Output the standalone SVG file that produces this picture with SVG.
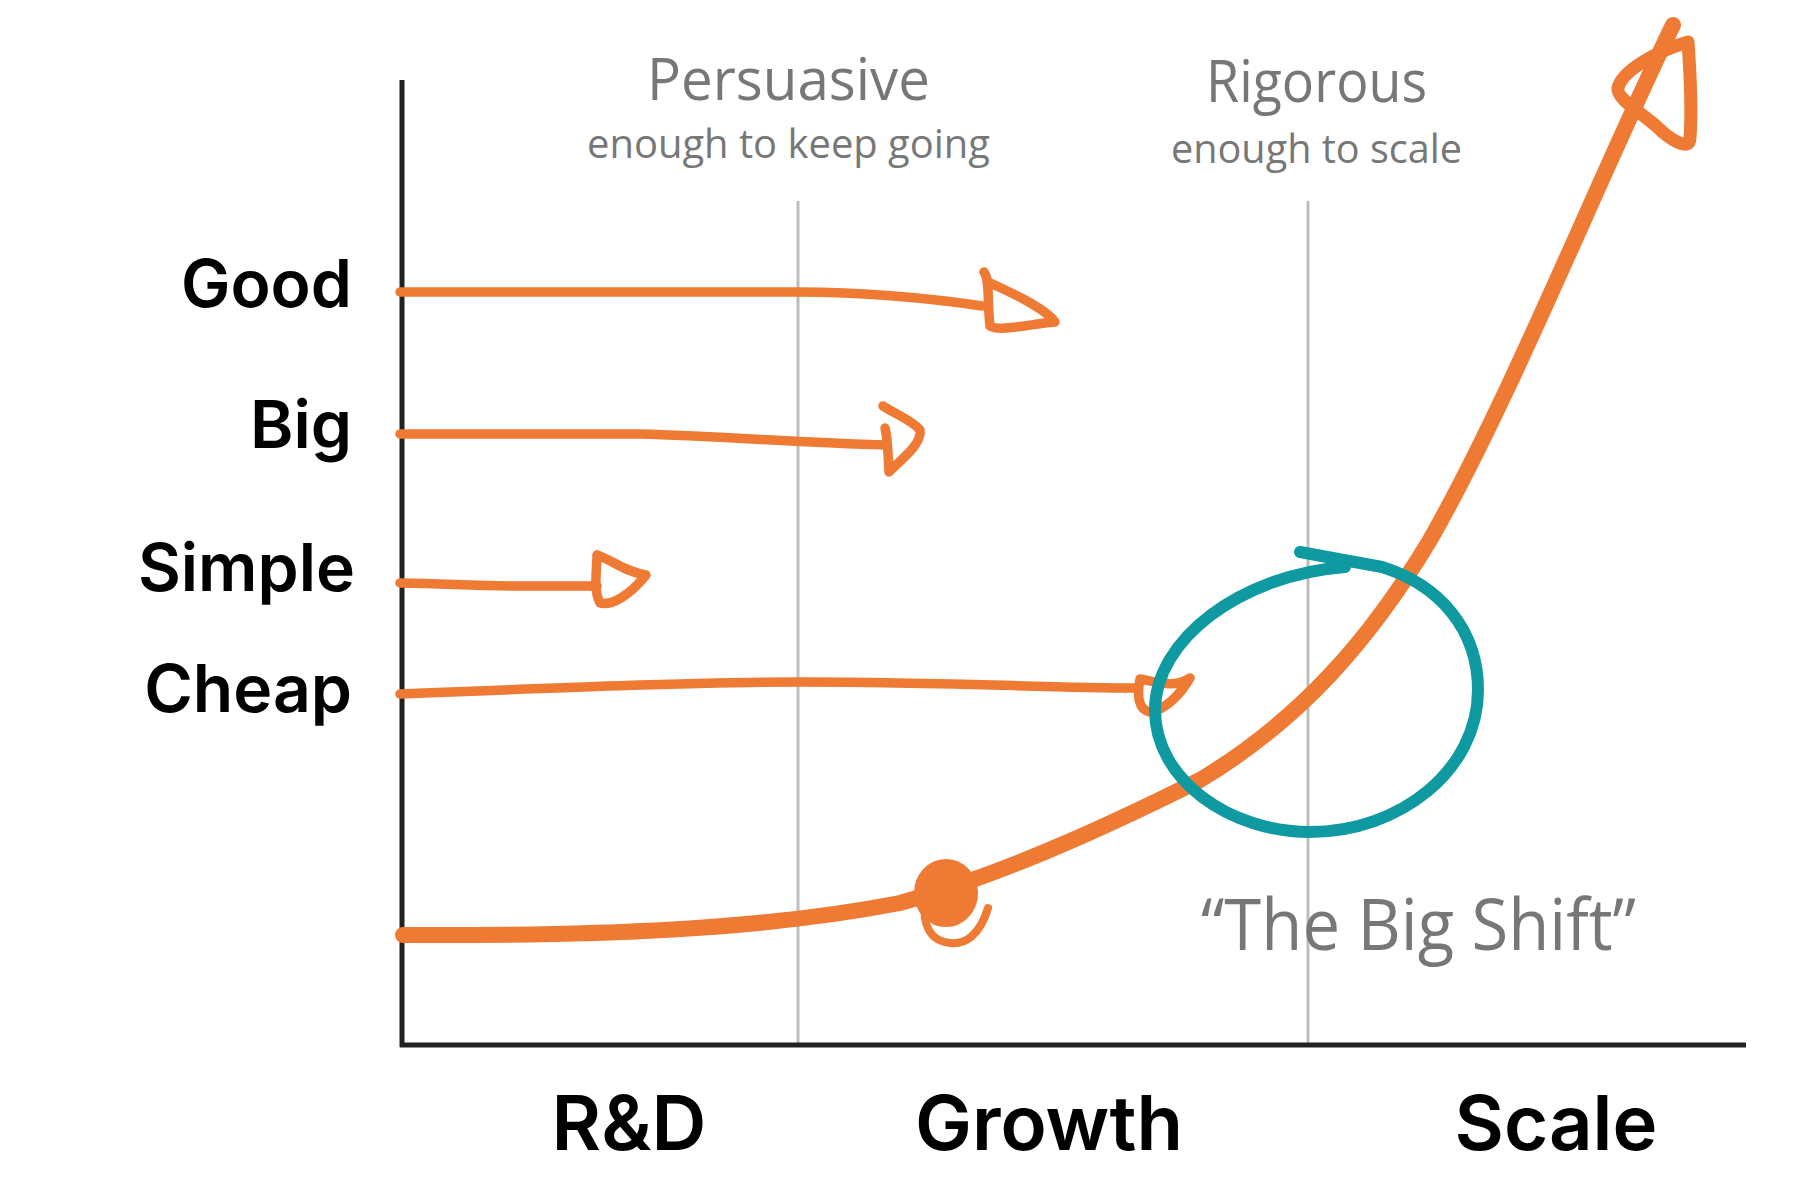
<svg xmlns="http://www.w3.org/2000/svg" width="1800" height="1200" viewBox="0 0 1800 1200">
<style>
.lbl{font-family:Inter,"Liberation Sans",sans-serif;font-weight:600;fill:#000;}
.hand{font-family:"Open Sans","DejaVu Sans",sans-serif;font-weight:400;fill:#777;}
.or{fill:none;stroke:#EE7A33;stroke-linecap:round;stroke-linejoin:round;}
.grid{stroke:#BDBDBD;stroke-width:3;}
</style>
<rect width="1800" height="1200" fill="#fff"/>
<g id="grid">
<line class="grid" x1="798" y1="201" x2="798" y2="1045"/>
<line class="grid" x1="1308" y1="201" x2="1308" y2="1045"/>
</g>
<g id="axes" stroke="#222" stroke-width="5">
<line x1="402" y1="80" x2="402" y2="1047"/>
<line x1="400" y1="1045" x2="1746" y2="1045"/>
</g>
<g id="headers">
<text class="hand" x="647" y="100" font-size="58" textLength="283" lengthAdjust="spacingAndGlyphs">Persuasive</text>
<text class="hand" x="587" y="158" font-size="40" textLength="403" lengthAdjust="spacingAndGlyphs">enough to keep going</text>
<text class="hand" x="1206" y="102" font-size="58" textLength="221" lengthAdjust="spacingAndGlyphs">Rigorous</text>
<text class="hand" x="1171" y="163" font-size="40" textLength="291" lengthAdjust="spacingAndGlyphs">enough to scale</text>
</g>
<g id="y-labels">
<text class="lbl" x="352" y="307" font-size="66" text-anchor="end">Good</text>
<text class="lbl" x="352" y="448" font-size="66" text-anchor="end">Big</text>
<text class="lbl" x="355" y="591" font-size="66" text-anchor="end">Simple</text>
<text class="lbl" x="352" y="712" font-size="66" text-anchor="end">Cheap</text>
</g>
<g id="x-labels">
<text class="lbl" x="629" y="1150" font-size="76" text-anchor="middle">R&amp;D</text>
<text class="lbl" x="1049" y="1150" font-size="76" text-anchor="middle">Growth</text>
<text class="lbl" x="1556" y="1150" font-size="76" text-anchor="middle">Scale</text>
</g>
<g id="connectors">
<g id="good-arrow" class="or" stroke-width="9.5">
<path d="M400,292 L798,292 C860,292 930,298 982,306"/>
<path d="M984,272 C990,280 987,300 990,326 C1000,332 1030,324 1055,322 C1045,308 1010,292 988,282"/>
</g>
<g id="big-arrow" class="or" stroke-width="9.5">
<path d="M400,434 L640,434 C720,436 800,443 886,445"/>
<path d="M883,406 C895,414 912,420 920,430 C922,445 900,460 889,472 C888,455 888,440 885,428"/>
</g>
<g id="simple-arrow" class="or" stroke-width="9.5">
<path d="M400,583 C450,584 480,586 520,586 L597,586"/>
<path d="M597,555 C612,560 625,572 646,575 C630,595 612,606 600,603 C593,590 597,570 597,555"/>
</g>
<g id="cheap-arrow" class="or" stroke-width="9.5">
<path d="M400,694 C550,688 700,682 800,682 C950,682 1050,688 1136,688"/>
<path d="M1140,679 C1160,683 1175,688 1190,678 C1180,695 1165,710 1150,712 C1138,710 1137,695 1140,679"/>
</g>
<g id="main-curve" class="or">
<path stroke-width="16" d="M403,935 C600,936 760,930 900,903 C1000,875 1100,830 1200,780 C1300,720 1370,640 1430,540 C1510,400 1600,175 1673,25"/>
<path stroke-width="13" d="M1688,42 C1660,50 1622,70 1618,88 C1616,98 1640,112 1655,125 C1670,140 1690,152 1690,138 C1692,110 1690,70 1688,42"/>
<ellipse cx="946" cy="893" rx="27" ry="29" fill="#EE7A33" stroke="#EE7A33" stroke-width="10"/>
<path stroke-width="8" d="M988,908 C980,935 965,945 950,943 C930,941 922,925 925,900"/>
</g>
<g id="shift-circle">
<path fill="none" stroke="#0E9AA0" stroke-width="12" stroke-linecap="round" stroke-linejoin="round" d="M1300,552 L1382,567 C1440,585 1478,630 1478,690 C1478,770 1400,832 1310,832 C1230,832 1155,780 1155,710 C1155,640 1240,575 1345,567"/>
</g>
</g>
<g id="shift-label">
<text class="hand" x="1201" y="950" font-size="72" textLength="435" lengthAdjust="spacingAndGlyphs">“The Big Shift”</text>
</g>
</svg>
